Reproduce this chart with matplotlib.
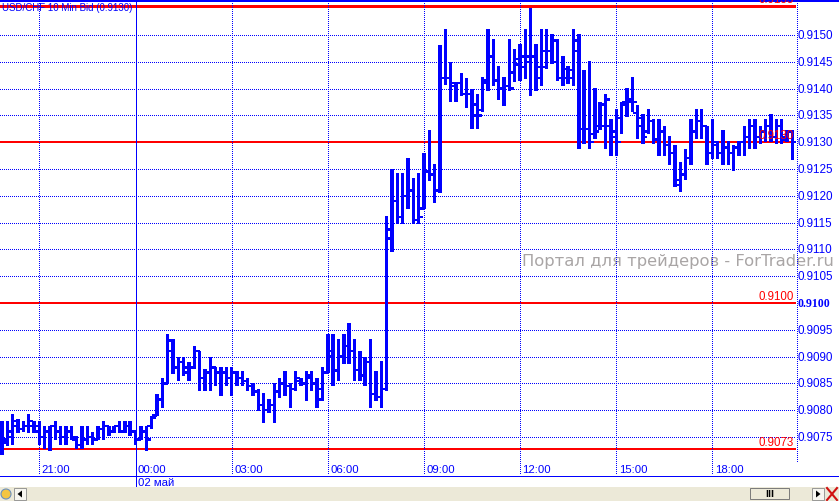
import numpy as np
import matplotlib
matplotlib.use("Agg")
import matplotlib.pyplot as plt
import matplotlib.transforms as mtrans
from matplotlib.patches import Rectangle, Polygon, Circle

# USD/CHF 10-min bid bars, 01 May 19:50 .. 02 May 20:30
# prices are given as price * 10000 (9076 -> 0.9076)
open_p = [
    9076, 9074.5, 9075, 9078, 9076.5, 9077, 9077, 9077, 9075, 9076,
    9077, 9076, 9075, 9076, 9074.5, 9073.5, 9074.5, 9075, 9074.5, 9076.5,
    9077, 9076, 9077, 9076, 9077, 9076, 9074.5, 9076, 9077, 9079,
    9082, 9085, 9093, 9088, 9089, 9087, 9088, 9091, 9086, 9087,
    9088, 9087, 9087, 9086, 9087, 9086, 9085.5, 9084.5, 9083.5, 9081,
    9080, 9081, 9083.5, 9085, 9084.5, 9084, 9085.5, 9085, 9086.5, 9085,
    9082, 9087, 9090, 9087.5, 9090, 9092, 9091, 9087.5, 9086.5, 9089,
    9083, 9082.5, 9084, 9112, 9119, 9116, 9120, 9121, 9115.5, 9117.6,
    9124.5, 9124, 9121, 9142, 9142, 9141, 9141, 9139, 9139, 9137,
    9136, 9141, 9146, 9141.5, 9140, 9140.5, 9143, 9145.5, 9146, 9145,
    9146, 9142, 9147, 9147, 9149, 9142, 9143.7, 9142, 9147, 9132.5,
    9132.5, 9131.5, 9133, 9133, 9133, 9132, 9134.5, 9137.5, 9138, 9135.5,
    9133, 9132, 9134, 9130.5, 9132, 9129.5, 9128, 9122, 9124, 9127,
    9132, 9134, 9133, 9128, 9129.5, 9128, 9129, 9128, 9129, 9130,
    9131, 9133, 9131, 9132, 9133, 9131, 9133, 9131, 9132,
]
high_p = [
    9078, 9078, 9079.2, 9078.3, 9078, 9079.2, 9078, 9078, 9077, 9077,
    9078, 9077, 9077, 9077, 9075.2, 9077, 9077, 9076, 9077, 9078,
    9077, 9077, 9078, 9078, 9078, 9076, 9077, 9077, 9079, 9083,
    9086, 9094.2, 9093.3, 9090, 9090, 9089, 9092, 9091, 9087.6, 9090,
    9088, 9088, 9088, 9088, 9087.3, 9087.3, 9086, 9085, 9084, 9083.2,
    9082, 9085, 9086, 9087.3, 9085, 9087.3, 9086, 9087.3, 9087.3, 9086,
    9088, 9094.2, 9094.2, 9093.2, 9094.2, 9096.3, 9093.2, 9091, 9090, 9093.2,
    9087.3, 9089.2, 9116.2, 9125, 9124.3, 9124.3, 9127, 9123.4, 9124.3, 9128,
    9132.2, 9126, 9148.2, 9151.2, 9145, 9141, 9143, 9142, 9140, 9138.9,
    9142.1, 9151.2, 9149.3, 9144.3, 9142.1, 9149.3, 9147.4, 9148.3, 9151.2, 9155,
    9148.3, 9151.2, 9151.2, 9150.2, 9149.3, 9146.1, 9144.3, 9151.2, 9150.2, 9143.4,
    9145.2, 9140.2, 9137.5, 9139, 9134.3, 9136.2, 9137.5, 9140.2, 9142.1, 9137,
    9135.3, 9136.2, 9134.3, 9134.3, 9133.1, 9131.2, 9129.4, 9126.3, 9128.8, 9134.3,
    9136.2, 9136.2, 9133.1, 9134.3, 9130.3, 9132.2, 9130.3, 9129.4, 9130.3, 9133.1,
    9134.3, 9134.3, 9133.1, 9134.3, 9135.3, 9134.3, 9134.3, 9132.2, 9132.2,
]
low_p = [
    9071.6, 9073.3, 9073.6, 9075.8, 9076, 9075.8, 9075.8, 9073.6, 9072.7, 9072.4,
    9074.5, 9073.6, 9073.6, 9074.5, 9072.7, 9072.7, 9073.6, 9073.6, 9074.5, 9074.5,
    9075.2, 9075.8, 9075.8, 9075.8, 9075.2, 9073.6, 9074.5, 9072.4, 9076.5, 9079,
    9080.5, 9085, 9086.7, 9085.4, 9086.4, 9085.4, 9087.6, 9083.6, 9083.6, 9083.6,
    9084.5, 9082.6, 9084.5, 9082.6, 9084.5, 9084.5, 9083.6, 9082.6, 9079.8, 9077.6,
    9079.5, 9077.6, 9082.3, 9082.6, 9080.4, 9083.6, 9084.5, 9081.7, 9083.6, 9080.4,
    9081.7, 9087, 9084.5, 9085.5, 9088.6, 9088.6, 9085.5, 9085.5, 9084.5, 9080.5,
    9081.7, 9080.5, 9083.6, 9109.5, 9114.7, 9114.7, 9117.6, 9114.7, 9114.7, 9117.5,
    9122.7, 9118.6, 9120.6, 9140.6, 9137.5, 9137.5, 9138.6, 9136.4, 9132.5, 9132.5,
    9135.6, 9139.6, 9140.5, 9137.8, 9136.8, 9139.6, 9141.2, 9141.5, 9141.8, 9138.6,
    9139.6, 9140.5, 9143.7, 9144.6, 9141.5, 9140.5, 9140.9, 9140.5, 9128.8, 9129.7,
    9128.8, 9130.6, 9132.2, 9128.8, 9127.5, 9127.5, 9131.6, 9134.7, 9135.6, 9130.6,
    9129.7, 9131.6, 9129.7, 9127.5, 9127.5, 9125.7, 9121.6, 9120.7, 9122.9, 9125.7,
    9130.6, 9130.6, 9125.7, 9126.9, 9126.9, 9125.7, 9125.7, 9124.7, 9127.5, 9127.5,
    9128.8, 9128.8, 9129.7, 9130, 9130, 9129.7, 9129.7, 9130, 9126.6,
]
close_p = [
    9074, 9076, 9077, 9076.5, 9077, 9078, 9076, 9075, 9076, 9077,
    9076, 9075, 9076, 9075, 9073.5, 9074.5, 9075, 9074.5, 9076.5, 9077,
    9076, 9077, 9076, 9077, 9076, 9074.5, 9076, 9074.5, 9078.5, 9082,
    9085, 9091, 9088, 9089, 9088, 9088, 9091, 9086, 9087, 9088,
    9087, 9087, 9086, 9087, 9086, 9085.5, 9084.5, 9083.5, 9081, 9080,
    9081, 9083.5, 9085, 9084.5, 9084, 9086, 9085, 9086, 9085, 9084,
    9087, 9091, 9087.3, 9090, 9092, 9091, 9087.5, 9086.5, 9089, 9083,
    9082.5, 9084, 9113.7, 9119, 9116, 9120, 9121, 9115.5, 9116, 9124.5,
    9124, 9121, 9142, 9142, 9140.5, 9141, 9139, 9139, 9135, 9135,
    9141.5, 9146, 9141.5, 9140, 9140.5, 9140, 9144.5, 9144, 9146, 9146,
    9144, 9144, 9147, 9145, 9142, 9142, 9143.5, 9149, 9132.5, 9132.5,
    9130, 9132, 9137, 9138, 9131, 9130, 9137, 9137.5, 9137.5, 9134.5,
    9131, 9134, 9130.5, 9132, 9129.5, 9128, 9123, 9124, 9127, 9132,
    9134, 9133, 9128, 9130, 9128, 9129, 9128, 9129, 9130, 9131,
    9133, 9131, 9132, 9133, 9131, 9133, 9130.5, 9132, 9130,
]

level_prices = [0.91553, 0.9130, 0.9100, 0.90728]
level_labels = ["0.9155", "0.9130", "0.9100", "0.9073"]
price_ticks = [0.9075, 0.9080, 0.9085, 0.9090, 0.9095, 0.9100, 0.9105, 0.9110,
               0.9115, 0.9120, 0.9125, 0.9130, 0.9135, 0.9140, 0.9145, 0.9150]
time_ticks = [7, 25, 43, 61, 79, 97, 115, 133]   # bar index of each label
time_labels = ["21:00", "00:00", "03:00", "06:00", "09:00", "12:00", "15:00", "18:00"]
day_bar = 25
day_label = "02 май"
title = "USD/CHF 10 Min Bid (0.9130)"
watermark = "Портал для трейдеров - ForTrader.ru"

BLUE = "#0000ff"
RED = "#ff0000"
W, H = 839, 502
PX = 0.72   # one pixel in points at dpi 100

o = np.array(open_p) / 1e4
h = np.array(high_p) / 1e4
l = np.array(low_p) / 1e4
c = np.array(close_p) / 1e4
idx = np.arange(len(o))

fig = plt.figure(figsize=(W / 100, H / 100), dpi=100, facecolor="white")
# plot area: x 0..796 px, y 2..476 px
ax = fig.add_axes([0, (H - 476) / H, 796 / W, 474 / H])
ax.set_axis_off()
bar_dx = 5.341                         # pixels per bar
ax.set_xlim((0 - 2) / bar_dx, (796 - 2) / bar_dx)
px_per_unit = (438 - 36) / 0.0075     # 0.9150 at y=36, 0.9075 at y=438
ax.set_ylim(0.9150 - (476 - 36) / px_per_unit, 0.9150 + (36 - 2) / px_per_unit)

deco = fig.add_axes([0, 0, 1, 1], zorder=5)
deco.set_xlim(0, W)
deco.set_ylim(H, 0)
deco.set_axis_off()
x_blend = mtrans.blended_transform_factory(ax.transData, deco.transData)
y_blend = mtrans.blended_transform_factory(deco.transData, ax.transData)

dot = (0, (1, 2))
for p in price_ticks:
    ax.axhline(p, color=BLUE, lw=PX, ls=dot, antialiased=False, zorder=1)
for t in time_ticks:
    if t == day_bar:
        continue
    deco.plot([t, t], [2, 476], color=BLUE, lw=PX, ls=dot, antialiased=False,
              transform=x_blend, zorder=1)
deco.plot([day_bar, day_bar], [2, 488], color=BLUE, lw=PX, antialiased=False,
          transform=x_blend, zorder=1)
deco.plot([796.5, 796.5], [2, 463], color=BLUE, lw=PX, ls=dot, antialiased=False, zorder=1)

# watermark
deco.text(522, 262, watermark, color="#a9a5a5", fontsize=11.8, va="center", ha="left",
          family="DejaVu Sans", zorder=0)

# levels (thick red bands)
half = 1.2 / px_per_unit
for p, lab in zip(level_prices, level_labels):
    ax.axhspan(p - half, p + half, color=RED, lw=0, antialiased=False, zorder=3)
    deco.text(794, p + half, lab, color=RED, fontsize=8.3, family="Liberation Sans",
              ha="right", va="bottom", transform=y_blend, zorder=6)

# OHLC bars: thick stems, short open/close ticks
stem_w = 3.4 / bar_dx
tick_w = 4.4 / bar_dx
tick_h = 2.4 / px_per_unit
ax.bar(idx, h - l, bottom=l, width=stem_w, color=BLUE, lw=0,
       antialiased=False, zorder=4)
ax.bar(idx - tick_w, np.full(len(o), tick_h), bottom=o - tick_h / 2, width=tick_w,
       align="edge", color=BLUE, lw=0, antialiased=False, zorder=4)
ax.bar(idx, np.full(len(c), tick_h), bottom=c - tick_h / 2, width=tick_w,
       align="edge", color=BLUE, lw=0, antialiased=False, zorder=4)

# price scale
for p in price_ticks:
    bold = abs(p - 0.9100) < 1e-9
    deco.text(798, p, f"{p:.4f}", color=BLUE, va="center", ha="left",
              fontsize=8.4 if not bold else 8.6,
              family="Liberation Serif" if bold else "Liberation Sans",
              weight="bold" if bold else "normal", transform=y_blend)

# time scale
for t, lab in zip(time_ticks, time_labels):
    deco.text(t + 0.45, 470, lab, color=BLUE, va="center", ha="left", fontsize=8.2,
              family="Liberation Sans", transform=x_blend)
deco.text(day_bar + 0.45, 483, day_label, color=BLUE, va="center", ha="left",
          fontsize=8.2, family="Liberation Sans", transform=x_blend)

# frame lines
deco.add_patch(Rectangle((0, 0), W, 2.5, facecolor=BLUE, lw=0, antialiased=False))
deco.plot([0, W], [476.5, 476.5], color=BLUE, lw=PX, antialiased=False)

# title
deco.text(2, 8, title, color=BLUE, fontsize=7, family="Liberation Sans",
          va="center", ha="left", zorder=7)

# scroll bar strip
deco.add_patch(Rectangle((0, 488), W, 14, facecolor="#ece9d8", edgecolor="none"))
deco.add_patch(Circle((6, 495), 5, facecolor="#f4c542", edgecolor="#6a8fc0", lw=0.8))
deco.add_patch(Rectangle((14, 489), 12, 12, facecolor="#f7f6f0", edgecolor="#8a8a8a", lw=0.6))
deco.add_patch(Polygon([(22, 491.5), (22, 498.5), (17.5, 495)], facecolor="black"))
deco.add_patch(Rectangle((750, 489), 39, 11, facecolor="#ece9d8", edgecolor="#7a7a7a", lw=0.7))
deco.text(769.5, 494.5, "III", color="black", fontsize=6, weight="bold",
          ha="center", va="center", family="DejaVu Sans")
deco.add_patch(Rectangle((812, 489), 12, 12, facecolor="#f7f6f0", edgecolor="#8a8a8a", lw=0.6))
deco.add_patch(Polygon([(816, 491.5), (816, 498.5), (820.5, 495)], facecolor="black"))
deco.plot([827, 837], [489, 501], color="#d01010", lw=1.5)
deco.plot([827, 837], [501, 489], color="#d01010", lw=1.5)

fig.savefig("out.png", dpi=100, facecolor="white")
